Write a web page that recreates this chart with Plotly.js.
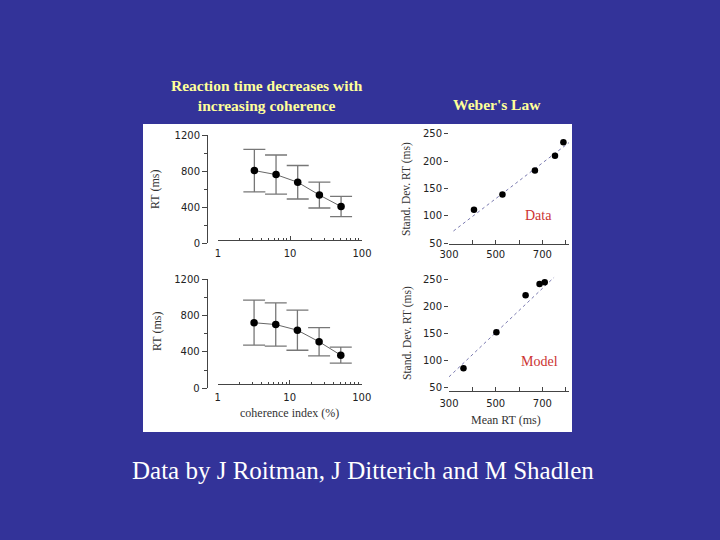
<!DOCTYPE html>
<html>
<head>
<meta charset="utf-8">
<script src="https://cdn.plot.ly/plotly-3.0.1.min.js"></script>
<style>html,body{margin:0;padding:0;background:#333399;}#chart{width:720px;height:540px;}</style>
</head>
<body>
<div id="chart"></div>
<script>
// ---- data ----
const coherence = [3.2, 6.4, 12.8, 25.6, 51.2];
const dataRT = [805, 760, 675, 533, 405];
const dataRTErr = [236, 218, 186, 144, 112];
const modelRT = [720, 700, 638, 511, 364];
const modelRTErr = [247, 238, 220, 155, 88];

const dataMeanRT = [407, 529, 668, 754, 790];
const dataSdRT = [111, 139, 183, 210, 235];
const dataFitX = [319, 829];
const dataFitY = [72, 239];

const modelMeanRT = [362, 503, 628, 688, 710];
const modelSdRT = [86, 152, 220, 241, 244];
const modelFitX = [300, 750];
const modelFitY = [70, 253];

const cohTickVals = [1, 10, 100];
const cohTickText = ['1', '10', '100'];
const cohMinorVals = [2,3,4,5,6,7,8,9,20,30,40,50,60,70,80,90];
const rtTickVals = [0, 400, 800, 1200];
const rtMinorVals = [200, 600, 1000];
const sdTickVals = [50, 100, 150, 200, 250];
const meanTickVals = [300, 400, 500, 600, 700, 800];
const meanTickText = ['300', '', '500', '', '700', ''];

// ---- helpers (pixel -> paper) ----
const W = 720, H = 540;
const X = px => px / W;
const Y = py => 1 - py / H;

const axCol = '#444';
const tickFont = {family: 'DejaVu Sans', size: 10, color: '#222'};
const serif = 'Liberation Serif';

function logX(domain, pos) {
  return {type: 'log', range: [0, 2], domain: domain, anchor: 'free', position: pos,
    showline: true, linecolor: axCol, linewidth: 1, ticks: 'inside', ticklen: 4, tickcolor: axCol,
    tickvals: cohTickVals, ticktext: cohTickText, tickfont: tickFont, ticklabelstandoff: 4,
    minor: {tickvals: cohMinorVals, ticks: 'inside', ticklen: 2, tickcolor: axCol, showgrid: false},
    showgrid: false, zeroline: false, fixedrange: true};
}
function rtY(domain, pos) {
  return {range: [0, 1200], domain: domain, anchor: 'free', position: pos,
    showline: true, linecolor: axCol, linewidth: 1, ticks: 'outside', ticklen: 5, tickcolor: axCol,
    tickvals: rtTickVals, tickfont: tickFont,
    minor: {tickvals: rtMinorVals, ticks: 'outside', ticklen: 3, tickcolor: axCol, showgrid: false},
    showgrid: false, zeroline: false, fixedrange: true};
}
function meanX(anchor, standoff) {
  return {range: [300, 814], domain: [X(449), X(569)], anchor: anchor,
    showline: true, linecolor: axCol, linewidth: 1, ticks: 'inside', ticklen: 4, tickcolor: axCol,
    tickvals: meanTickVals, ticktext: meanTickText, tickfont: tickFont, ticklabelstandoff: standoff,
    showgrid: false, zeroline: false, fixedrange: true};
}
function sdY(anchor, range, domain) {
  return {range: range, domain: domain, anchor: anchor,
    showline: false, ticks: 'outside', ticklen: 4, tickcolor: axCol,
    tickvals: sdTickVals, tickfont: tickFont,
    showgrid: false, zeroline: false, fixedrange: true};
}

const rtTrace = (y, err, xa, ya) => ({
  x: coherence, y: y, xaxis: xa, yaxis: ya, type: 'scatter', mode: 'lines+markers',
  line: {color: '#666', width: 1},
  marker: {color: '#000', size: 7.5},
  error_y: {type: 'data', array: err, visible: true, color: '#777', thickness: 1.3, width: 11}
});
const fitTrace = (x, y, xa, ya) => ({
  x: x, y: y, xaxis: xa, yaxis: ya, type: 'scatter', mode: 'lines',
  line: {color: '#7a7ab0', width: 1, dash: 'dot'}
});
const ptTrace = (x, y, xa, ya) => ({
  x: x, y: y, xaxis: xa, yaxis: ya, type: 'scatter', mode: 'markers',
  marker: {color: '#000', size: 6.5}
});

const traces = [
  rtTrace(dataRT, dataRTErr, 'x', 'y'),
  rtTrace(modelRT, modelRTErr, 'x2', 'y2'),
  fitTrace(dataFitX, dataFitY, 'x3', 'y3'),
  ptTrace(dataMeanRT, dataSdRT, 'x3', 'y3'),
  fitTrace(modelFitX, modelFitY, 'x4', 'y4'),
  ptTrace(modelMeanRT, modelSdRT, 'x4', 'y4')
];

const ann = (text, x, y, font, extra) => Object.assign({
  text: text, x: X(x), y: Y(y), xref: 'paper', yref: 'paper', showarrow: false,
  xanchor: 'center', yanchor: 'middle', font: font
}, extra || {});

const titleFont = {family: serif, size: 15.5, color: '#ffff99', weight: 'bold'};
const labFont = {family: serif, size: 12, color: '#333'};

const layout = {
  width: W, height: H,
  margin: {l: 0, r: 0, t: 0, b: 0},
  paper_bgcolor: '#333399',
  plot_bgcolor: 'rgba(0,0,0,0)',
  showlegend: false,
  xaxis: logX([X(218), X(362)], Y(239.5)),
  yaxis: rtY([Y(243), Y(135)], X(207)),
  xaxis2: logX([X(217.7), X(361.7)], Y(384)),
  yaxis2: rtY([Y(388.3), Y(279)], X(206.7)),
  xaxis3: meanX('y3', 1),
  yaxis3: sdY('x3', [48.2, 260.9], [Y(244), Y(128)]),
  xaxis4: meanX('y4', 3),
  yaxis4: sdY('x4', [43.9, 266.6], [Y(391), Y(270)]),
  shapes: [{type: 'rect', xref: 'paper', yref: 'paper', x0: X(143), x1: X(572), y0: Y(432), y1: Y(124),
    fillcolor: '#ffffff', line: {width: 0}, layer: 'below'}],
  annotations: [
    ann('Reaction time decreases with<br>increasing coherence', 267, 95.5, titleFont),
    ann("Weber's Law", 497, 104, titleFont),
    ann('Data by J Roitman, J Ditterich and M Shadlen', 363, 470, {family: serif, size: 25, color: '#ffffff'}),
    ann('RT (ms)', 155, 190, labFont, {textangle: -90}),
    ann('RT (ms)', 157, 332, labFont, {textangle: -90}),
    ann('Stand. Dev. RT (ms)', 406, 189, {family: serif, size: 11.5, color: '#333'}, {textangle: -90}),
    ann('Stand. Dev. RT (ms)', 407, 333, {family: serif, size: 11.5, color: '#333'}, {textangle: -90}),
    ann('coherence index (%)', 289, 413, labFont),
    ann('Mean RT (ms)', 506, 420, labFont),
    ann('Data', 538, 215, {family: serif, size: 14, color: '#cc3333'}),
    ann('Model', 539, 361, {family: serif, size: 14, color: '#cc3333'})
  ]
};

Plotly.newPlot('chart', traces, layout, {displayModeBar: false, staticPlot: true});
</script>
</body>
</html>
